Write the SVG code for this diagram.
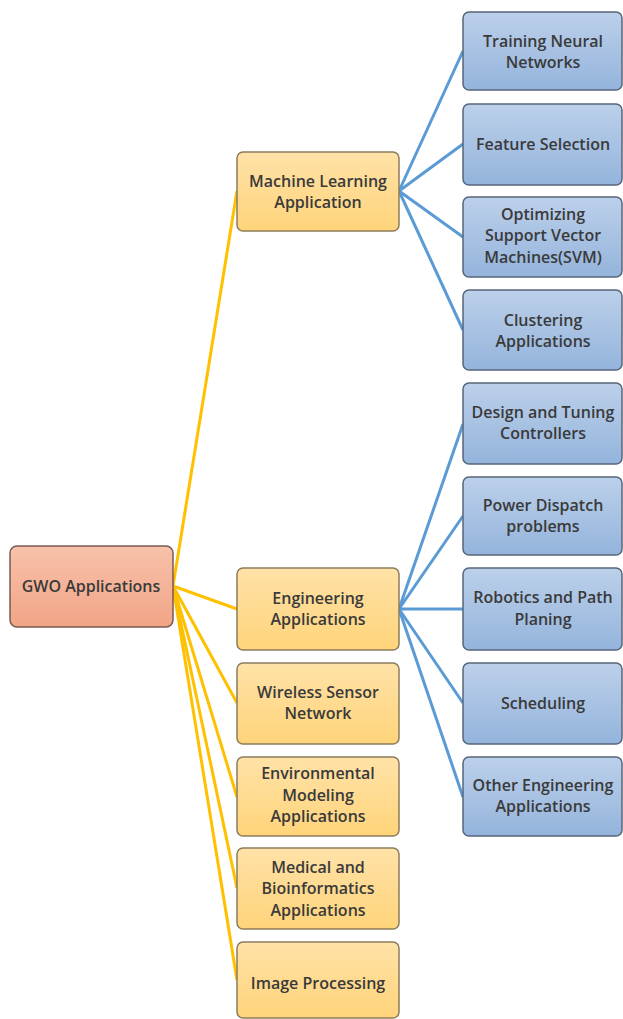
<svg xmlns="http://www.w3.org/2000/svg" width="623" height="1019" viewBox="0 0 623 1019">
<defs>
<linearGradient id="gOr" x1="0" y1="0" x2="0" y2="1"><stop offset="0" stop-color="#FFE2A8"/><stop offset="1" stop-color="#FFD47A"/></linearGradient>
<linearGradient id="gBl" x1="0" y1="0" x2="0" y2="1"><stop offset="0" stop-color="#BCD0EA"/><stop offset="1" stop-color="#94B4DC"/></linearGradient>
<linearGradient id="gRd" x1="0" y1="0" x2="0" y2="1"><stop offset="0" stop-color="#F7C2AA"/><stop offset="1" stop-color="#F2A486"/></linearGradient>
</defs>
<style>
.or{fill:url(#gOr);stroke:#8C7C5C;stroke-width:1.5}
.bl{fill:url(#gBl);stroke:#56657A;stroke-width:1.5}
.rd{fill:url(#gRd);stroke:#7A5A55;stroke-width:1.5}
text{font-family:"Open Sans","Liberation Sans",sans-serif;font-size:16px;font-weight:600;fill:#3a3a3a;text-anchor:middle}
.y{stroke:#FFC000;stroke-width:3;fill:none}
.b{stroke:#5B9BD5;stroke-width:3;fill:none}
</style>
<g id="connectors">
<path class="y" d="M173 586 L237 191"/>
<path class="y" d="M173 586 L237 609"/>
<path class="y" d="M173 586 L237 703"/>
<path class="y" d="M173 586 L237 797"/>
<path class="y" d="M173 586 L237 888"/>
<path class="y" d="M173 586 L237 980"/>
<path class="b" d="M399 191 L463 51"/>
<path class="b" d="M399 191 L463 144"/>
<path class="b" d="M399 191 L463 237"/>
<path class="b" d="M399 191 L463 330"/>
<path class="b" d="M399 609 L463 424"/>
<path class="b" d="M399 609 L463 516"/>
<path class="b" d="M399 609 L463 609"/>
<path class="b" d="M399 609 L463 703"/>
<path class="b" d="M399 609 L463 797"/>
</g>
<g id="gwo"><rect class="rd" x="10" y="546" width="163" height="81" rx="7"/><text x="91" y="592">GWO Applications</text></g>
<g id="ml"><rect class="or" x="237" y="152" width="162" height="79" rx="6"/><text x="318" y="187">Machine Learning</text><text x="318" y="208">Application</text></g>
<g id="eng"><rect class="or" x="237" y="568" width="162" height="82" rx="6"/><text x="318" y="604">Engineering</text><text x="318" y="625">Applications</text></g>
<g id="wsn"><rect class="or" x="237" y="663" width="162" height="81" rx="6"/><text x="318" y="698">Wireless Sensor</text><text x="318" y="719">Network</text></g>
<g id="env"><rect class="or" x="237" y="757" width="162" height="79" rx="6"/><text x="318" y="779">Environmental</text><text x="318" y="801">Modeling</text><text x="318" y="822">Applications</text></g>
<g id="med"><rect class="or" x="237" y="848" width="162" height="81" rx="6"/><text x="318" y="873">Medical and</text><text x="318" y="894">Bioinformatics</text><text x="318" y="916">Applications</text></g>
<g id="img"><rect class="or" x="237" y="942" width="162" height="76" rx="6"/><text x="318" y="989">Image Processing</text></g>
<g id="tnn"><rect class="bl" x="463" y="12" width="159" height="78" rx="6"/><text x="543" y="47">Training Neural</text><text x="543" y="68">Networks</text></g>
<g id="fs"><rect class="bl" x="463" y="104" width="159" height="81" rx="6"/><text x="543" y="150">Feature Selection</text></g>
<g id="svm"><rect class="bl" x="463" y="197" width="159" height="80" rx="6"/><text x="543" y="220">Optimizing</text><text x="543" y="241">Support Vector</text><text x="543" y="263">Machines(SVM)</text></g>
<g id="clu"><rect class="bl" x="463" y="290" width="159" height="80" rx="6"/><text x="543" y="326">Clustering</text><text x="543" y="347">Applications</text></g>
<g id="dtc"><rect class="bl" x="463" y="383" width="159" height="81" rx="6"/><text x="543" y="418">Design and Tuning</text><text x="543" y="439">Controllers</text></g>
<g id="pdp"><rect class="bl" x="463" y="477" width="159" height="78" rx="6"/><text x="543" y="511">Power Dispatch</text><text x="543" y="532">problems</text></g>
<g id="rpp"><rect class="bl" x="463" y="568" width="159" height="82" rx="6"/><text x="543" y="603">Robotics and Path</text><text x="543" y="625">Planing</text></g>
<g id="sch"><rect class="bl" x="463" y="663" width="159" height="81" rx="6"/><text x="543" y="709">Scheduling</text></g>
<g id="oea"><rect class="bl" x="463" y="757" width="159" height="79" rx="6"/><text x="543" y="791">Other Engineering</text><text x="543" y="812">Applications</text></g>
</svg>
